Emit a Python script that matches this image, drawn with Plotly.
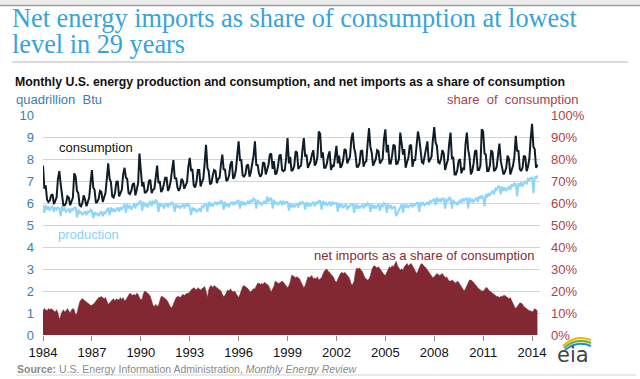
import pandas as pd
import plotly.graph_objects as go

# ---------------- data (monthly, Jan 1984 - May 2014) ----------------
consumption = [
    7.70, 6.65, 6.80, 6.15, 6.05, 6.10, 6.35, 6.40, 5.95, 6.10, 6.25, 7.10,  # 1984
    7.45, 6.85, 6.45, 5.90, 5.90, 6.00, 6.30, 6.25, 5.90, 6.05, 6.25, 7.35,  # 1985
    7.20, 6.55, 6.45, 5.90, 5.85, 6.00, 6.35, 6.15, 5.85, 6.05, 6.25, 6.90,  # 1986
    7.50, 6.70, 6.60, 6.00, 6.05, 6.20, 6.55, 6.50, 6.05, 6.25, 6.45, 7.10,  # 1987
    7.80, 7.10, 6.95, 6.30, 6.25, 6.45, 6.95, 7.00, 6.30, 6.45, 6.60, 7.30,  # 1988
    7.60, 7.15, 7.10, 6.45, 6.40, 6.55, 6.85, 6.90, 6.35, 6.60, 6.90, 8.25,  # 1989
    7.35, 6.75, 6.95, 6.45, 6.50, 6.60, 7.00, 7.05, 6.45, 6.60, 6.65, 7.30,  # 1990
    7.70, 6.90, 7.00, 6.50, 6.60, 6.85, 7.15, 7.15, 6.55, 6.70, 7.00, 7.50,  # 1991
    7.95, 7.10, 7.15, 6.70, 6.55, 6.70, 7.10, 7.00, 6.65, 6.80, 6.95, 7.65,  # 1992
    8.05, 7.45, 7.55, 6.80, 6.70, 6.95, 7.50, 7.50, 6.75, 6.95, 7.10, 7.80,  # 1993
    8.65, 7.60, 7.45, 6.85, 6.90, 7.25, 7.50, 7.45, 6.90, 7.10, 7.15, 7.75,  # 1994
    8.20, 7.50, 7.55, 7.00, 7.05, 7.25, 7.75, 7.90, 7.10, 7.20, 7.50, 8.15,  # 1995
    8.80, 7.95, 7.95, 7.25, 7.20, 7.30, 7.70, 7.75, 7.20, 7.40, 7.70, 8.15,  # 1996
    8.80, 7.70, 7.75, 7.35, 7.20, 7.30, 7.85, 7.80, 7.30, 7.50, 7.75, 8.20,  # 1997
    8.25, 7.55, 7.90, 7.30, 7.35, 7.65, 8.15, 8.20, 7.50, 7.45, 7.50, 8.05,  # 1998
    8.95, 7.80, 8.10, 7.45, 7.50, 7.70, 8.35, 8.30, 7.55, 7.65, 7.70, 8.40,  # 1999
    8.95, 8.10, 8.20, 7.60, 7.75, 7.90, 8.20, 8.40, 7.70, 7.80, 8.10, 9.25,  # 2000
    9.15, 8.05, 8.30, 7.60, 7.60, 7.80, 8.15, 8.35, 7.50, 7.70, 7.65, 8.25,  # 2001
    8.60, 7.80, 8.15, 7.60, 7.70, 7.95, 8.45, 8.40, 7.80, 7.95, 8.10, 8.90,  # 2002
    9.20, 8.50, 8.25, 7.65, 7.65, 7.80, 8.35, 8.40, 7.65, 7.85, 7.90, 8.70,  # 2003
    9.40, 8.55, 8.30, 7.70, 7.85, 8.00, 8.40, 8.35, 7.80, 7.90, 8.00, 8.90,  # 2004
    9.35, 8.30, 8.65, 7.80, 7.80, 8.15, 8.65, 8.60, 7.75, 7.80, 8.00, 9.20,  # 2005
    8.65, 8.20, 8.45, 7.60, 7.85, 8.05, 8.60, 8.65, 7.65, 7.95, 7.95, 8.50,  # 2006
    9.25, 8.90, 8.40, 7.85, 7.80, 8.10, 8.50, 8.80, 7.85, 7.95, 8.10, 8.85,  # 2007
    9.45, 8.75, 8.60, 7.85, 7.80, 8.00, 8.40, 8.25, 7.50, 7.75, 7.95, 8.70,  # 2008
    9.20, 8.00, 8.10, 7.30, 7.30, 7.50, 7.90, 8.00, 7.35, 7.60, 7.50, 8.65,  # 2009
    9.20, 8.40, 8.10, 7.30, 7.45, 7.80, 8.35, 8.40, 7.50, 7.50, 7.70, 9.35,  # 2010
    9.25, 8.25, 8.20, 7.45, 7.45, 7.70, 8.40, 8.30, 7.45, 7.50, 7.65, 8.20,  # 2011
    8.70, 7.90, 7.65, 7.30, 7.40, 7.60, 8.15, 8.00, 7.30, 7.50, 7.70, 8.10,  # 2012
    9.05, 8.35, 8.40, 7.55, 7.45, 7.60, 8.15, 8.10, 7.45, 7.65, 8.00, 8.90,  # 2013
    9.60, 8.55, 8.45, 7.60, 7.75,                                            # 2014
]

production = [
    5.90, 5.55, 5.90, 5.70, 5.85, 5.65, 5.80, 5.85, 5.60, 5.80, 5.70, 5.80,  # 1984
    5.75, 5.40, 5.85, 5.65, 5.80, 5.60, 5.65, 5.75, 5.55, 5.75, 5.65, 5.80,  # 1985
    5.80, 5.35, 5.70, 5.55, 5.60, 5.45, 5.55, 5.60, 5.45, 5.65, 5.55, 5.70,  # 1986
    5.65, 5.30, 5.60, 5.45, 5.55, 5.40, 5.55, 5.60, 5.40, 5.60, 5.50, 5.70,  # 1987
    5.75, 5.45, 5.80, 5.60, 5.75, 5.60, 5.70, 5.80, 5.60, 5.80, 5.70, 5.85,  # 1988
    5.95, 5.55, 5.95, 5.75, 5.90, 5.70, 5.80, 5.95, 5.75, 6.00, 5.90, 6.05,  # 1989
    6.10, 5.65, 6.05, 5.85, 6.00, 5.80, 5.95, 6.10, 5.85, 6.10, 5.95, 6.15,  # 1990
    6.05, 5.60, 6.00, 5.85, 5.95, 5.75, 5.90, 6.00, 5.80, 6.00, 5.90, 6.05,  # 1991
    5.95, 5.60, 5.95, 5.80, 5.90, 5.75, 5.85, 5.95, 5.75, 5.95, 5.85, 6.00,  # 1992
    5.80, 5.45, 5.80, 5.65, 5.75, 5.60, 5.65, 5.75, 5.60, 5.85, 5.80, 5.95,  # 1993
    5.95, 5.60, 6.05, 5.85, 6.00, 5.85, 5.95, 6.05, 5.90, 6.05, 5.95, 6.10,  # 1994
    6.05, 5.70, 6.05, 5.85, 5.95, 5.85, 5.95, 6.05, 5.90, 6.05, 5.95, 6.10,  # 1995
    6.10, 5.75, 6.10, 5.90, 6.05, 5.90, 6.00, 6.10, 5.95, 6.15, 6.05, 6.20,  # 1996
    6.15, 5.75, 6.15, 5.95, 6.05, 5.90, 6.00, 6.10, 5.95, 6.30, 6.05, 6.20,  # 1997
    6.20, 5.75, 6.15, 5.95, 6.05, 5.90, 6.00, 6.10, 5.90, 6.10, 5.95, 6.05,  # 1998
    6.05, 5.65, 6.00, 5.80, 5.95, 5.80, 5.90, 6.00, 5.80, 6.05, 5.95, 6.05,  # 1999
    6.00, 5.70, 6.05, 5.85, 6.00, 5.85, 5.95, 6.05, 5.85, 6.05, 5.95, 6.10,  # 2000
    6.10, 5.70, 6.10, 5.90, 6.05, 5.90, 5.95, 6.05, 5.85, 6.05, 5.95, 6.00,  # 2001
    6.00, 5.60, 6.00, 5.80, 5.95, 5.80, 5.85, 5.95, 5.70, 5.85, 5.85, 5.95,  # 2002
    5.95, 5.55, 5.95, 5.75, 5.90, 5.75, 5.85, 5.90, 5.75, 5.95, 5.85, 6.00,  # 2003
    5.95, 5.60, 5.95, 5.75, 5.90, 5.75, 5.85, 5.95, 5.65, 5.90, 5.85, 6.00,  # 2004
    5.95, 5.55, 5.95, 5.75, 5.90, 5.75, 5.80, 5.85, 5.40, 5.55, 5.70, 5.85,  # 2005
    5.95, 5.55, 5.95, 5.80, 5.90, 5.80, 5.90, 5.95, 5.80, 5.95, 5.90, 6.00,  # 2006
    6.00, 5.60, 6.05, 5.90, 6.00, 5.90, 5.95, 6.05, 5.90, 6.10, 6.05, 6.15,  # 2007
    6.20, 5.90, 6.25, 6.05, 6.20, 6.05, 6.20, 6.20, 5.75, 6.15, 6.10, 6.25,  # 2008
    6.20, 5.75, 6.15, 5.95, 6.05, 5.90, 6.05, 6.15, 6.00, 6.20, 6.10, 6.20,  # 2009
    6.20, 5.75, 6.25, 6.05, 6.15, 6.05, 6.15, 6.25, 6.05, 6.30, 6.20, 6.35,  # 2010
    6.25, 5.85, 6.40, 6.25, 6.45, 6.35, 6.45, 6.55, 6.40, 6.65, 6.60, 6.75,  # 2011
    6.75, 6.40, 6.75, 6.55, 6.70, 6.55, 6.65, 6.75, 6.60, 6.85, 6.75, 6.90,  # 2012
    6.85, 6.30, 6.90, 6.75, 6.95, 6.75, 6.90, 7.00, 6.85, 7.10, 7.05, 7.15,  # 2013
    7.15, 6.45, 7.20, 7.10, 7.25,                                            # 2014
]

net_import_share = [  # percent of consumption
    11.0, 12.0, 11.5, 11.0, 12.0, 11.5, 12.0, 11.5, 11.0, 10.5, 11.5, 10.0,  # 1984
    7.0, 9.0, 10.5, 11.5, 10.5, 11.0, 12.0, 11.0, 10.0, 11.5, 12.0, 11.5,    # 1985
    9.0, 10.0, 12.5, 15.0, 16.0, 16.5, 16.0, 15.5, 15.0, 14.5, 14.0, 13.5,   # 1986
    13.5, 14.0, 14.5, 15.5, 16.5, 17.0, 17.0, 17.5, 17.0, 16.5, 17.0, 15.0,  # 1987
    14.0, 14.5, 15.5, 16.0, 16.5, 15.5, 16.5, 16.0, 16.0, 17.0, 16.0, 17.0,  # 1988
    15.5, 16.0, 17.0, 18.0, 19.0, 18.5, 18.0, 18.5, 18.0, 19.0, 18.5, 17.0,  # 1989
    16.0, 16.5, 19.0, 20.0, 19.5, 19.0, 18.5, 17.5, 15.0, 13.5, 13.0, 14.0,  # 1990
    13.0, 13.5, 15.5, 17.5, 17.5, 17.0, 16.5, 16.0, 15.0, 13.5, 12.5, 12.5,  # 1991
    14.0, 15.5, 17.0, 17.5, 17.5, 17.0, 18.0, 18.5, 18.0, 18.5, 19.0, 19.0,  # 1992
    19.5, 20.5, 21.0, 21.5, 21.0, 20.5, 21.5, 21.0, 20.5, 21.0, 21.5, 22.0,  # 1993
    20.0, 17.0, 20.5, 22.0, 22.5, 21.5, 22.5, 22.0, 21.5, 21.0, 20.5, 20.0,  # 1994
    18.5, 17.5, 18.0, 19.5, 20.5, 20.0, 21.0, 20.0, 19.5, 20.0, 19.0, 18.5,  # 1995
    17.0, 18.5, 20.0, 22.0, 22.5, 22.0, 21.5, 21.0, 20.0, 19.5, 20.5, 21.0,  # 1996
    21.0, 22.5, 23.5, 23.5, 23.0, 23.5, 23.0, 24.0, 23.5, 23.0, 22.5, 21.0,  # 1997
    19.5, 21.0, 22.0, 24.5, 24.0, 23.5, 23.5, 24.0, 24.5, 24.0, 23.0, 22.0,  # 1998
    21.5, 22.5, 24.0, 27.0, 27.0, 26.5, 26.0, 26.5, 26.0, 25.5, 24.0, 22.5,  # 1999
    21.5, 22.5, 24.5, 26.5, 26.0, 26.5, 27.0, 25.5, 26.0, 25.5, 26.5, 25.0,  # 2000
    25.5, 26.0, 27.5, 29.0, 29.5, 30.0, 29.0, 28.5, 27.5, 27.0, 26.0, 24.5,  # 2001
    24.0, 25.5, 27.0, 28.0, 28.5, 28.0, 28.5, 28.0, 27.0, 26.5, 25.0, 23.0,  # 2002
    23.0, 24.5, 28.5, 30.5, 30.0, 30.5, 29.5, 29.0, 27.5, 26.0, 25.5, 25.0,  # 2003
    25.5, 27.0, 29.5, 31.0, 31.5, 31.0, 30.5, 31.0, 30.0, 29.0, 28.5, 27.5,  # 2004
    27.0, 28.5, 30.0, 31.0, 30.5, 31.5, 31.0, 32.5, 33.5, 31.5, 30.5, 29.5,  # 2005
    30.0, 29.5, 31.0, 32.0, 32.5, 31.5, 32.0, 32.5, 31.5, 30.5, 29.5, 28.0,  # 2006
    29.0, 30.5, 32.0, 32.5, 31.5, 31.0, 30.5, 29.5, 28.5, 27.5, 26.5, 26.0,  # 2007
    26.5, 27.5, 28.0, 27.5, 27.0, 27.5, 28.0, 27.0, 26.0, 26.5, 25.5, 24.5,  # 2008
    24.5, 25.0, 24.5, 24.0, 23.5, 24.5, 24.0, 23.0, 22.0, 20.5, 20.0, 21.0,  # 2009
    22.5, 24.0, 25.0, 25.0, 24.5, 24.0, 23.0, 22.5, 21.5, 21.0, 20.5, 20.0,  # 2010
    20.0, 20.5, 21.5, 21.5, 20.5, 20.0, 19.5, 19.0, 18.5, 18.0, 17.5, 17.5,  # 2011
    17.0, 17.5, 17.5, 18.0, 18.0, 17.5, 17.0, 16.5, 17.0, 15.5, 14.5, 13.0,  # 2012
    12.0, 13.0, 14.0, 14.5, 14.5, 14.0, 13.0, 12.5, 12.0, 11.5, 11.0, 11.0,  # 2013
    10.5, 11.0, 12.0, 11.5, 11.0,                                            # 2014
]

tick_years = [1984, 1987, 1990, 1993, 1996, 1999, 2002, 2005, 2008, 2011, 2014]
left_ticks = [0, 1, 2, 3, 4, 5, 6, 7, 8, 9, 10]
right_ticks = [0, 10, 20, 30, 40, 50, 60, 70, 80, 90, 100]

months = pd.date_range("1984-01-01", periods=len(consumption), freq="MS")

# ---------------- layout helpers ----------------
W, H = 640, 379
L, R, T, B = 43, 100, 115, 44
PW, PH = W - L - R, H - T - B


def px(x):
    return (x - L) / PW


def py(y):
    return (H - B - y) / PH


SANS = "Liberation Sans, Arial, sans-serif"
BLUE_AX = "#3a80b5"
RED_AX = "#a8444c"

fig = go.Figure()
fig.add_trace(go.Scatter(
    x=months, y=net_import_share, yaxis="y2", mode="lines",
    line=dict(color="#822832", width=0.5), fill="tozeroy", fillcolor="#822832",
    hoverinfo="skip", showlegend=False))
fig.add_trace(go.Scatter(
    x=months, y=production, mode="lines",
    line=dict(color="#8fd5fa", width=2), hoverinfo="skip", showlegend=False))
fig.add_trace(go.Scatter(
    x=months, y=consumption, mode="lines",
    line=dict(color="#0f1d29", width=2), hoverinfo="skip", showlegend=False))

ann = []


def text(x, y, s, size, color, anchor="left", family=SANS):
    ann.append(dict(x=px(x), y=py(y), xref="paper", yref="paper", text=s,
                    showarrow=False, xanchor=anchor, yanchor="middle",
                    font=dict(family=family, size=size, color=color)))


SERIF = "Liberation Serif, Times New Roman, serif"
text(10, 18, "Net energy imports as share of consumption at lowest", 26.3, "#37a3da", family=SERIF)
text(10, 44, "level in 29 years", 26.3, "#37a3da", family=SERIF)
text(13, 82, "<b>Monthly U.S. energy production and consumption, and net imports as a share of consumption</b>",
     12.3, "#111111")
text(14, 99, "quadrillion  Btu", 13, BLUE_AX)
text(581, 99, "share  of  consumption", 13, RED_AX, anchor="right")
text(57, 147, "consumption", 13, "#111111")
text(56, 234, "production", 13, "#86d2f8")
text(312, 255, "net imports as a share of consumption", 13, "#8a2a33")
text(15, 369, "<b>Source:</b> U.S. Energy Information Administration, <i>Monthly Energy Review</i>",
     10.5, "#8a8a8a")
text(573, 355, "eia", 21, "#444444", anchor="center", family="DejaVu Sans, Liberation Sans")

shapes = [
    dict(type="rect", xref="paper", yref="paper", x0=px(0), x1=px(640), y0=py(0), y1=py(5),
         fillcolor="#ececec", line=dict(width=0), layer="below"),
    dict(type="line", xref="paper", yref="paper", x0=px(0), x1=px(640), y0=py(5.5), y1=py(5.5),
         line=dict(color="#9c9c9c", width=1.5)),
    dict(type="line", xref="paper", yref="paper", x0=px(12), x1=px(628), y0=py(62), y1=py(62),
         line=dict(color="#dadada", width=2)),
    dict(type="line", xref="paper", yref="paper", x0=px(16), x1=px(636), y0=py(375), y1=py(375),
         line=dict(color="#d2d2d2", width=1)),
]


def arc(x0, y0, xc, yc, x1, y1, color, w):
    return dict(type="path", xref="paper", yref="paper",
                path=f"M {px(x0)},{py(y0)} Q {px(xc)},{py(yc)} {px(x1)},{py(y1)}",
                line=dict(color=color, width=w))


shapes += [
    arc(563, 346, 575, 334, 591, 340, "#f5b400", 2),
    arc(564, 348, 576, 337, 591, 343, "#6db33f", 2),
    arc(565, 350, 577, 340, 591, 346, "#1f8fd0", 2),
]

fig.update_layout(
    width=W, height=H,
    margin=dict(l=L, r=R, t=T, b=B, autoexpand=False),
    paper_bgcolor="white", plot_bgcolor="white",
    font=dict(family=SANS, size=13, color="#111111"),
    annotations=ann, shapes=shapes, hovermode=False,
    xaxis=dict(
        type="date", range=["1984-01-01", "2014-06-28"],
        tickvals=[f"{y}-01-01" for y in tick_years],
        ticktext=[str(y) for y in tick_years],
        ticks="outside", ticklen=5, tickcolor="#8a8a8a", tickwidth=1,
        showgrid=False, zeroline=False, showline=False,
        tickfont=dict(family=SANS, size=13, color="#111111"), fixedrange=True),
    yaxis=dict(
        range=[0, 10], tickvals=left_ticks, ticktext=[str(v) for v in left_ticks],
        showgrid=True, gridcolor="#d4d4d4", gridwidth=1, zeroline=False, showline=False,
        ticks="", ticklabelstandoff=8,
        tickfont=dict(family=SANS, size=13, color=BLUE_AX), fixedrange=True),
    yaxis2=dict(
        overlaying="y", side="right", range=[0, 100],
        tickvals=right_ticks, ticktext=[f"{v}%" for v in right_ticks],
        showgrid=False, zeroline=False, showline=False, ticks="", ticklabelstandoff=10,
        tickfont=dict(family=SANS, size=13, color=RED_AX), fixedrange=True),
)

fig.write_html("out.html", config={"displayModeBar": False},
               post_script="document.body.style.margin='0';document.body.style.overflow='hidden';")
